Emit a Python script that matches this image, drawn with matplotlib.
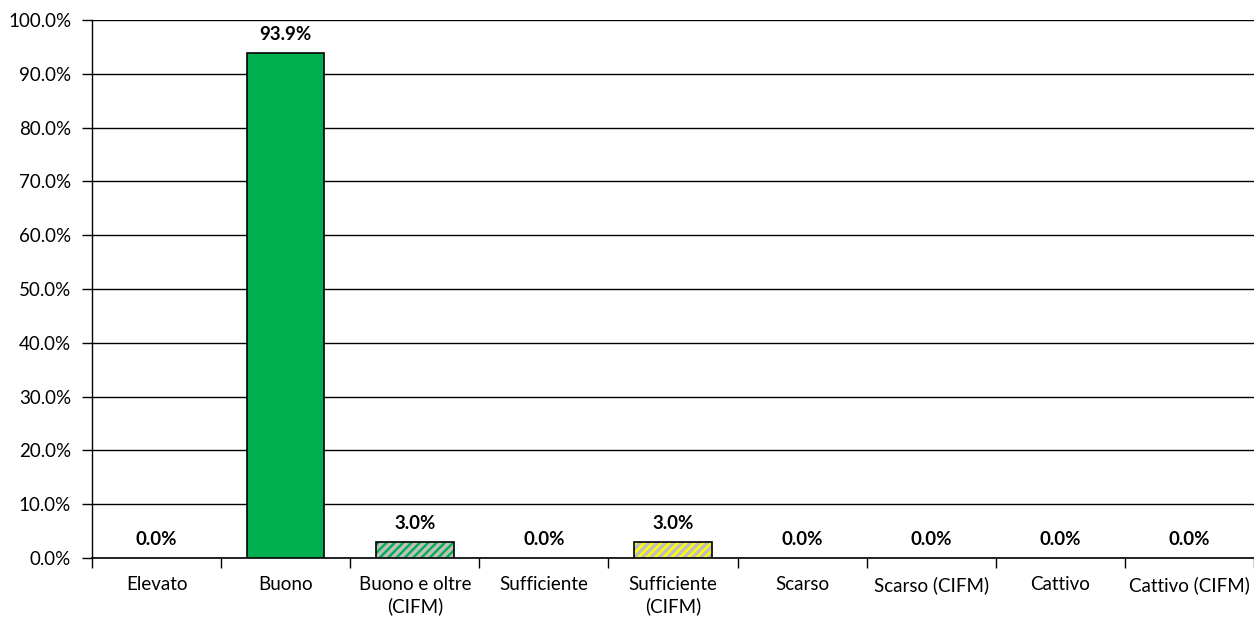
import matplotlib.pyplot as plt
from matplotlib.ticker import FuncFormatter

categories = ['Elevato', 'Buono', 'Buono e oltre\n(CIFM)', 'Sufficiente',
              'Sufficiente\n(CIFM)', 'Scarso', 'Scarso (CIFM)', 'Cattivo',
              'Cattivo (CIFM)']
values = [0.0, 93.9, 3.0, 0.0, 3.0, 0.0, 0.0, 0.0, 0.0]
fills = ['#00B050', '#00B050', '#00B050', '#FFFF00', '#FFFF00',
         '#FFC000', '#FFC000', '#FF0000', '#FF0000']
hatched = [False, False, True, False, True, False, True, False, True]

plt.rcParams['font.family'] = ['Lato', 'DejaVu Sans']
plt.rcParams['hatch.linewidth'] = 2.5

fig = plt.figure(figsize=(12.54, 6.19), dpi=100)
ax = fig.add_axes([92 / 1254, 61 / 619, 1162 / 1254, 538 / 619])

x = list(range(len(categories)))
for i, v in enumerate(values):
    if v > 0:
        if hatched[i]:
            ax.bar(i, v, width=0.6, color=fills[i], edgecolor='#BFBFBF',
                   hatch='////', linewidth=0, zorder=3)
            ax.bar(i, v, width=0.6, color='none', edgecolor='black',
                   linewidth=1.2, zorder=4)
        else:
            ax.bar(i, v, width=0.6, color=fills[i], edgecolor='black',
                   linewidth=1.2, zorder=3)
    ax.annotate(f'{v:.1f}%', (i, v), xytext=(0, 7), textcoords='offset points',
                ha='center', va='bottom', fontsize=13.5, fontweight='bold',
                zorder=5)

ax.set_xlim(-0.5, len(categories) - 0.5)
ax.set_ylim(0, 100)
ax.set_yticks(range(0, 101, 10))
ax.yaxis.set_major_formatter(FuncFormatter(lambda y, _: f'{y:.1f}%'))
ax.set_xticks(x)
ax.set_xticklabels(categories, linespacing=1.3)
ax.tick_params(axis='x', length=0, labelsize=13.5, pad=13)
ax.set_xticks([i + 0.5 for i in range(-1, len(categories))], minor=True)
ax.tick_params(axis='x', which='minor', length=7, width=1, direction='out')
ax.tick_params(axis='y', length=7, width=1, labelsize=13.5, pad=8)

ax.grid(axis='y', color='black', linewidth=1, zorder=0)
for s in ['top', 'right']:
    ax.spines[s].set_visible(False)
ax.spines['left'].set_linewidth(1)
ax.spines['bottom'].set_linewidth(1.2)
ax.set_axisbelow(True)

fig.savefig('out.png', dpi=100)
